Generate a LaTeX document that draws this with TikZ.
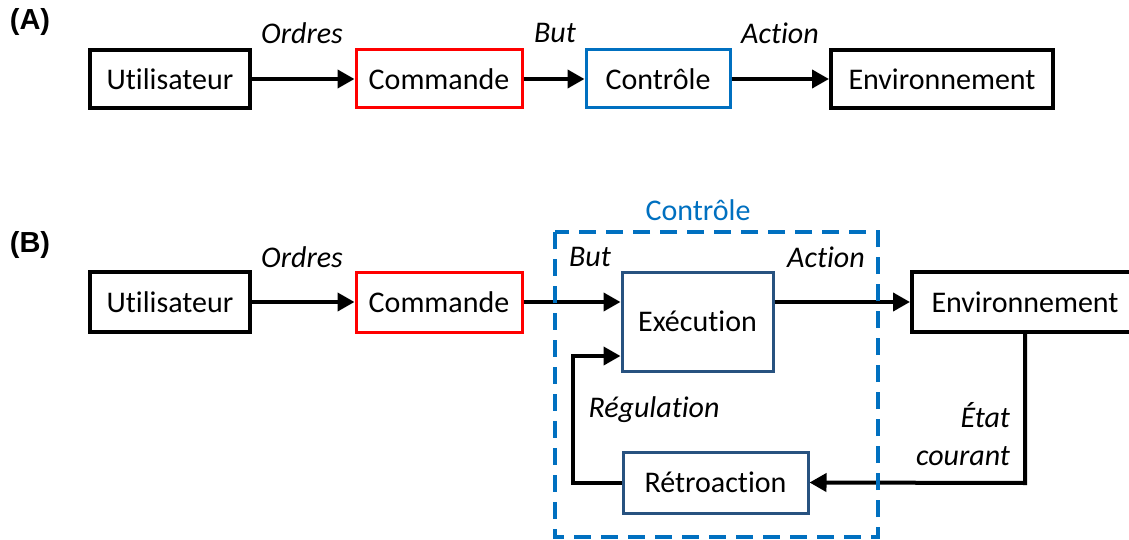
\documentclass[tikz,border=0pt]{standalone}
\usepackage{fontspec}
\setmainfont{Carlito}[Ligatures=NoCommon]
\newfontfamily\tagfont{Liberation Sans}
\usetikzlibrary{arrows.meta}
\definecolor{cmdred}{RGB}{255,0,0}
\definecolor{ctrlblue}{RGB}{0,112,192}
\definecolor{subblue}{RGB}{40,82,128}
\begin{document}
\begin{tikzpicture}[x=1pt, y=-1pt,
    every node/.style={font=\fontsize{30}{36}\selectfont},
    box/.style={draw=black, line width=4pt, fill=white, inner sep=0pt, minimum height=58pt},
    cmdbox/.style={box, draw=cmdred, line width=3pt},
    ctrlbox/.style={box, draw=ctrlblue, line width=3pt},
    subbox/.style={box, draw=subblue, line width=3pt},
    lbl/.style={font=\fontsize{30}{36}\selectfont\itshape},
    tag/.style={font=\fontsize{29}{34}\selectfont\tagfont\bfseries},
    flow/.style={line width=4pt, -{Triangle[length=17pt,width=18pt]}}]
  \useasboundingbox (0,0) rectangle (1129,540);

  % (A)
  \node[tag] (tagA) at (30,22) {(A)};
  \node[box, minimum width=160pt] (userA) at (170,79) {Utilisateur};
  \node[cmdbox, minimum width=166pt] (cmdA) at (439,79) {Commande};
  \node[ctrlbox, minimum width=144pt] (ctrlA) at (658,79) {Contrôle};
  \node[box, minimum width=222pt] (envA) at (942,79) {Environnement};
  \node[lbl] (ordA) at (302,33) {Ordres};
  \node[lbl] (butA) at (555,33) {But};
  \node[lbl] (actA) at (780,33) {Action};
  \draw[flow] (userA) -- (cmdA);
  \draw[flow] (cmdA) -- (ctrlA);
  \draw[flow] (ctrlA) -- (envA);

  % (B)
  \node[tag] (tagB) at (30,245) {(B)};
  \node[text=ctrlblue] (ctrlB) at (698,210) {Contrôle};
  \node[box, minimum width=160pt, minimum height=60pt] (userB) at (170,302) {Utilisateur};
  \node[cmdbox, minimum width=166pt, minimum height=60pt] (cmdB) at (439,302) {Commande};
  \node[subbox, minimum width=151pt, minimum height=99pt] (exec) at (697.5,321.5) {Exécution};
  \node[subbox, minimum width=185pt, minimum height=61pt] (retro) at (715.5,482.5) {Rétroaction};
  \node[box, minimum width=226pt, minimum height=60pt] (envB) at (1025,302) {Environnement};
  \node[lbl] (ordB) at (302,257) {Ordres};
  \node[lbl] (butB) at (590,257) {But};
  \node[lbl] (actB) at (826,257) {Action};
  \node[lbl] (regul) at (654,410) {Régulation};
  \node[lbl, align=right, font=\fontsize{30}{38}\selectfont\itshape] (etat) at (963,434) {État\\courant};
  \coordinate (loopL) at (573,356);
  \coordinate (loopR) at (1025,483);
  \draw[flow] (userB) -- (cmdB);
  \draw[flow] (cmdB) -- (cmdB -| exec.west);
  \draw[flow] (exec.east |- envB) -- (envB);
  \draw[flow] (envB.south) -- (loopR) -- (retro.east);
  \draw[flow] (retro.west) -| (loopL) -- (loopL -| exec.west);
  % frame of the control block
  \draw[ctrlblue, line width=4pt, dash pattern=on 17pt off 10pt] (555,232) rectangle (878,537);
\end{tikzpicture}
\end{document}
